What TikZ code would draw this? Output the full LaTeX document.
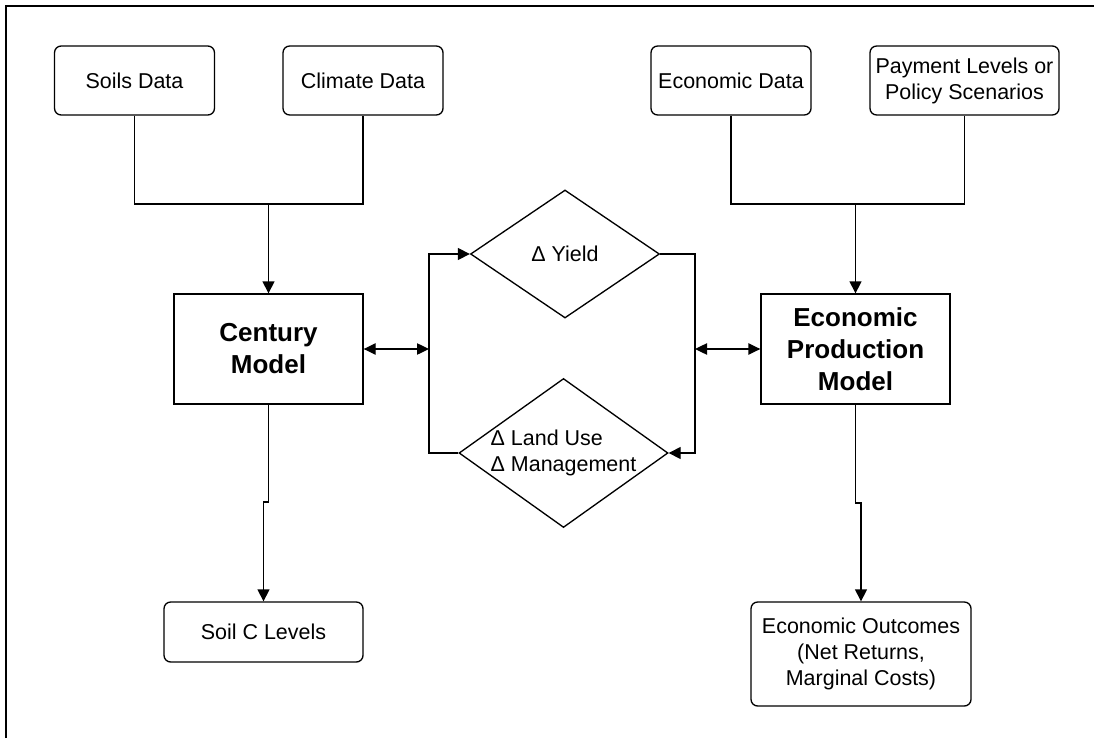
\documentclass[tikz,border=0pt]{standalone}
\usepackage{fontspec}
\setmainfont{Liberation Sans}
\usetikzlibrary{shapes.geometric, arrows.meta}
\newcommand{\txtsize}{\fontsize{16.1}{19.5}\selectfont}
\newcommand{\bigsize}{\fontsize{19.5}{24}\selectfont\bfseries}
\tikzset{
    link/.style={line width=1pt},
    arrow/.style={-{Triangle[length=9pt, width=9pt]}, line width=1pt},
    dblarrow/.style={{Triangle[length=9pt, width=8.5pt]}-{Triangle[length=9pt, width=8.5pt]}, line width=1pt},
}
\begin{document}
\begin{tikzpicture}[
    x=0.75pt, y=-0.75pt,
    databox/.style={draw, line width=1pt, rounded corners=5pt, minimum width=120pt, minimum height=51.75pt, inner sep=0pt, align=center, font=\txtsize},
    model/.style={draw, line width=1pt, minimum width=141.75pt, minimum height=82.5pt, inner sep=0pt, align=center, font=\bigsize},
    choice/.style={draw, diamond, line width=1pt, inner sep=0pt},
    lbl/.style={font=\txtsize, align=left}
]
\useasboundingbox (0,0) rectangle (1094,738);
\draw[line width=1.5pt] (6,738) -- (6,6) -- (1094,6);

% Inputs (top row)
\node[databox] (soils) at (134.5,80.5) {Soils Data};
\node[databox] (climate) at (363,80.5) {Climate Data};
\node[databox] (econdata) at (731,80.5) {Economic Data};
\node[databox, minimum width=141.75pt] (payment) at (964.5,80.5) {Payment Levels or\\Policy Scenarios};

% Models
\node[model] (century) at (268.5,349) {Century\\Model};
\node[model] (epm) at (855.5,349) {Economic\\Production\\Model};

% Linkage in the middle
\node[choice, minimum width=141.75pt, minimum height=96pt, label={[lbl]center:Δ Yield}] (yield) at (565,254) {};
\node[choice, minimum width=156.75pt, minimum height=111.75pt, label={[lbl]center:Δ Land Use\\Δ Management}] (landuse) at (563.5,453) {};

% Outputs
\node[databox, minimum width=149.25pt, minimum height=45pt] (soilc) at (263.5,632) {Soil C Levels};
\node[databox, minimum width=165pt, minimum height=78pt] (outcomes) at (861,654) {Economic Outcomes\\(Net Returns,\\Marginal Costs)};

\coordinate (joinL) at (268.5,204);
\coordinate (joinR) at (855.5,204);
\coordinate (loopL) at (429,254);
\coordinate (loopR) at (695,453);
\coordinate (jogL) at (263.5,502);
\coordinate (jogR) at (861,503);

% Arrows
\draw[link] (soils.south) |- (joinL) -| (climate.south);
\draw[arrow] (joinL) -- (century.north);
\draw[link] (econdata.south) |- (joinR) -| (payment.south);
\draw[arrow] (joinR) -- (epm.north);

\draw[arrow] (landuse.west) -| (loopL) -- (yield.west);
\draw[arrow] (yield.east) -| (loopR) -- (landuse.east);
\draw[dblarrow] (century.east) -- (century.east -| loopL);
\draw[dblarrow] (epm.west -| loopR) -- (epm.west);

\draw[arrow] (century.south) |- (jogL) -- (soilc.north);
\draw[arrow] (epm.south) |- (jogR) -- (outcomes.north);

\end{tikzpicture}
\end{document}
